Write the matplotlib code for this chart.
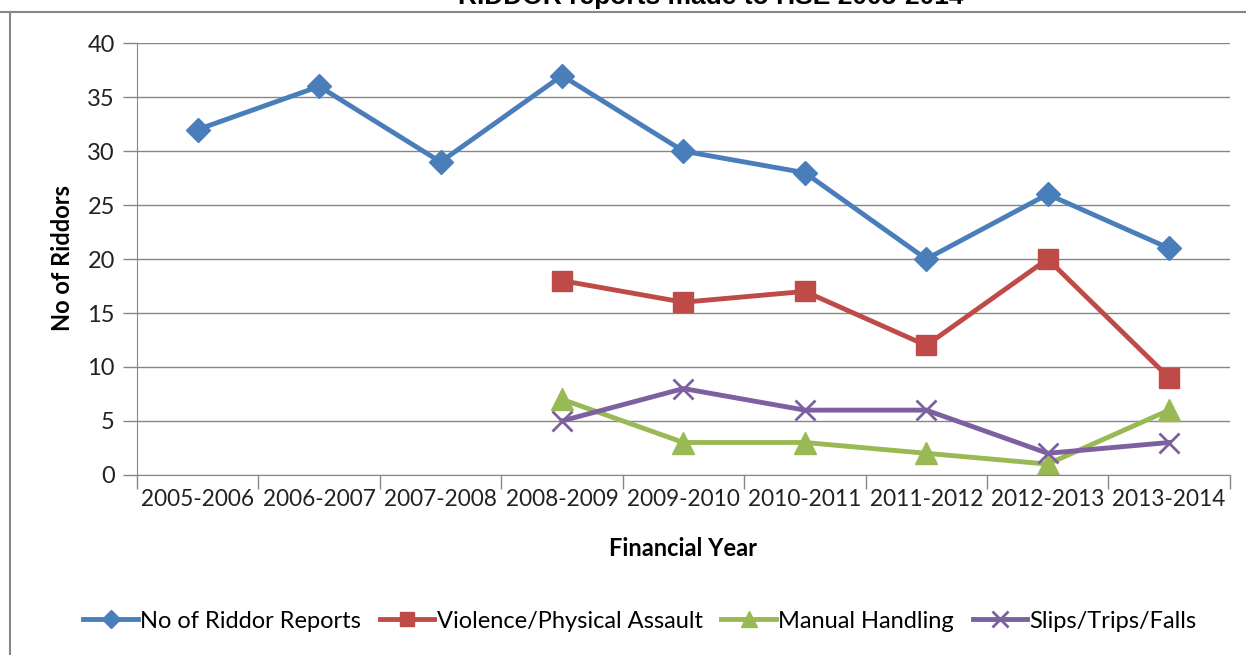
import matplotlib
matplotlib.use('Agg')
import matplotlib.pyplot as plt
import numpy as np
from matplotlib.lines import Line2D

years = ['2005-2006', '2006-2007', '2007-2008', '2008-2009', '2009-2010',
         '2010-2011', '2011-2012', '2012-2013', '2013-2014']
riddor = [32, 36, 29, 37, 30, 28, 20, 26, 21]
violence = [np.nan, np.nan, np.nan, 18, 16, 17, 12, 20, 9]
manual = [np.nan, np.nan, np.nan, 7, 3, 3, 2, 1, 6]
slips = [np.nan, np.nan, np.nan, 5, 8, 6, 6, 2, 3]

font = ['Lato', 'DejaVu Sans']
plt.rcParams['font.family'] = font

fig = plt.figure(figsize=(12.46, 6.55), dpi=100)
ax = fig.add_axes([0.110, 0.275, 0.877, 0.659])

x = np.arange(len(years))
ax.plot(x, riddor, color='#4A7EBB', lw=3.5, marker='D', ms=12, label='No of Riddor Reports')
ax.plot(x, violence, color='#BE4B48', lw=3.5, marker='s', ms=14, label='Violence/Physical Assault')
ax.plot(x, manual, color='#98B954', lw=3.5, marker='^', ms=16, label='Manual Handling')
ax.plot(x, slips, color='#7D60A0', lw=3.5, marker='x', ms=15, mew=2, label='Slips/Trips/Falls')

ax.set_xlim(-0.5, len(years) - 0.5)
ax.set_ylim(0, 40)
ax.set_yticks(range(0, 41, 5))
ax.set_xticks(np.arange(-0.5, len(years), 1))
ax.set_xticklabels([])
ax.set_xticks(x, minor=True)
ax.set_xticklabels(years, minor=True)
ax.tick_params(axis='x', which='major', length=10, color='#868686', width=1)
ax.tick_params(axis='x', which='minor', length=0, labelsize=16.3, pad=10, colors='#222222')
ax.tick_params(axis='y', length=10, color='#868686', width=1, labelsize=17, pad=6, labelcolor='#222222')
ax.yaxis.grid(True, color='#868686', lw=1)
ax.set_axisbelow(True)
for s in ['top', 'right']:
    ax.spines[s].set_visible(False)
for s in ['left', 'bottom']:
    ax.spines[s].set_color('#868686')

fig.text(683 / 1246, 1 - 548 / 655, 'Financial Year', ha='center', va='center',
         fontsize=17, fontweight='bold')
fig.text(62 / 1246, 1 - 258 / 655, 'No of Riddors', ha='center', va='center',
         rotation=90, fontsize=17, fontweight='bold')
fig.text(711 / 1246, 1 - 4 / 655, 'RIDDOR reports made to HSE 2005-2014', ha='center',
         va='baseline', fontsize=19, fontweight='bold', family='Liberation Sans')

leg = fig.legend(loc='center', bbox_to_anchor=(640 / 1246, 1 - 621 / 655), ncol=4,
                 frameon=False, fontsize=17, handlelength=2.3, handletextpad=0.1,
                 columnspacing=0.8, markerscale=0.75)

# chart frame
fig.add_artist(Line2D([10 / 1246, 10 / 1246], [0, 1 - 12 / 655], color='#868686', lw=1.5,
                      transform=fig.transFigure))
fig.add_artist(Line2D([0, 1], [1 - 12 / 655, 1 - 12 / 655], color='#868686', lw=1.5,
                      transform=fig.transFigure))

fig.savefig('out.png', dpi=100)
